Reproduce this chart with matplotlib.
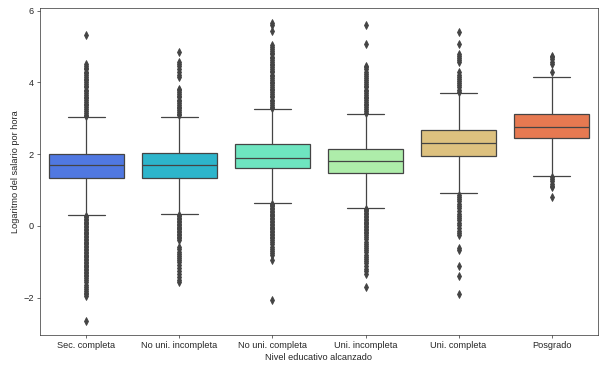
import matplotlib
matplotlib.use("Agg")
import matplotlib.pyplot as plt
import seaborn as sns

sns.set_style("ticks")
plt.rcParams["font.family"] = ["Liberation Sans", "DejaVu Sans"]
plt.rcParams["font.size"] = 11

# categories and box statistics
niveles = ["Sec. completa", "No uni. incompleta", "No uni. completa",
           "Uni. incompleta", "Uni. completa", "Posgrado"]
q1 = [1.34, 1.34, 1.62, 1.48, 1.95, 2.44]
mediana = [1.70, 1.70, 1.90, 1.82, 2.32, 2.76]
q3 = [2.00, 2.04, 2.29, 2.15, 2.68, 3.13]
bigote_inf = [0.31, 0.34, 0.65, 0.51, 0.92, 1.38]
bigote_sup = [3.04, 3.04, 3.25, 3.13, 3.71, 4.16]

# outliers, per category
out_sec = [5.33, 4.50, 4.46, 4.40, 4.36, 4.30, 4.26, 4.20, 4.16, 4.10, 4.06,
           4.00, 3.96, 3.90, 3.86, 3.80, 3.76, 3.70, 3.66, 3.60, 3.56, 3.50,
           3.46, 3.40, 3.36, 3.30, 3.26, 3.20, 3.16, 3.10, 3.06,
           0.28, 0.24, 0.20, 0.16, 0.12, 0.08, 0.04, 0.00, -0.04, -0.08,
           -0.12, -0.16, -0.20, -0.24, -0.28, -0.32, -0.36, -0.40, -0.44,
           -0.48, -0.52, -0.56, -0.60, -0.64, -0.68, -0.72, -0.76, -0.80,
           -0.84, -0.88, -0.92, -0.96, -1.00, -1.04, -1.08, -1.12, -1.16,
           -1.20, -1.24, -1.28, -1.32, -1.36, -1.40, -1.46, -1.52, -1.58,
           -1.64, -1.70, -1.76, -1.82, -1.86, -1.90, -1.95, -2.65]
out_nui = [4.86, 4.58, 4.52, 4.46, 4.38, 4.30, 4.22, 4.14, 3.82, 3.78, 3.72,
           3.68, 3.62, 3.58, 3.52, 3.48, 3.42, 3.38, 3.32, 3.28, 3.22, 3.18,
           3.12, 3.08,
           0.30, 0.26, 0.22, 0.18, 0.14, 0.10, 0.06, 0.02, -0.02, -0.06,
           -0.10, -0.14, -0.18, -0.22, -0.26, -0.30, -0.34, -0.40,
           -0.60, -0.66, -0.72, -0.78, -0.84, -0.90, -0.96, -1.02, -1.10,
           -1.18, -1.26, -1.34, -1.42, -1.50, -1.57]
out_nuc = [5.66, 5.60, 5.42, 5.03, 4.98, 4.92, 4.88, 4.82, 4.78, 4.72, 4.68,
           4.62, 4.58, 4.52, 4.48, 4.42, 4.38, 4.32, 4.28, 4.22, 4.18, 4.12,
           4.08, 4.02, 3.98, 3.92, 3.88, 3.82, 3.78, 3.72, 3.68, 3.62, 3.58,
           3.52, 3.48, 3.42, 3.38, 3.32, 3.28,
           0.62, 0.58, 0.54, 0.50, 0.46, 0.42, 0.38, 0.34, 0.30, 0.26, 0.22,
           0.18, 0.14, 0.10, 0.06, 0.02, -0.02, -0.06, -0.10, -0.14, -0.18,
           -0.22, -0.26, -0.30, -0.34, -0.40, -0.46, -0.52, -0.58, -0.64,
           -0.70, -0.76, -0.82, -0.94, -2.08]
out_uni = [5.61, 5.07, 4.47, 4.42, 4.36, 4.30, 4.24, 4.18, 4.12, 4.06, 4.00,
           3.96, 3.90, 3.86, 3.80, 3.76, 3.70, 3.66, 3.60, 3.56, 3.50, 3.46,
           3.40, 3.36, 3.30, 3.26, 3.20, 3.16,
           0.48, 0.44, 0.40, 0.36, 0.32, 0.28, 0.24, 0.20, 0.16, 0.12, 0.08,
           0.04, 0.00, -0.04, -0.08, -0.12, -0.16, -0.20, -0.26, -0.32,
           -0.38, -0.44, -0.50, -0.56, -0.62, -0.68, -0.74, -0.80, -0.86,
           -0.92, -0.98, -1.04, -1.12, -1.20, -1.27, -1.33, -1.72]
out_unc = [5.40, 5.07, 4.80, 4.74, 4.68, 4.62, 4.56, 4.28, 4.22, 4.16, 4.10,
           4.04, 3.98, 3.92, 3.86, 3.80, 3.74,
           0.86, 0.80, 0.74, 0.68, 0.62, 0.56, 0.50, 0.40, 0.34, 0.28, 0.22,
           0.16, 0.08, 0.02, -0.06, -0.14, -0.20, -0.26, -0.62, -0.68,
           -1.12, -1.41, -1.89]
out_pos = [4.75, 4.70, 4.64, 4.58, 4.52, 4.30, 1.36, 1.30, 1.24, 1.18, 1.12,
           1.08, 0.79]
atipicos = [out_sec, out_nui, out_nuc, out_uni, out_unc, out_pos]

stats = []
for i in range(len(niveles)):
    stats.append({"q1": q1[i], "med": mediana[i], "q3": q3[i],
                  "whislo": bigote_inf[i], "whishi": bigote_sup[i],
                  "fliers": atipicos[i], "label": niveles[i]})

colores = sns.color_palette("rainbow", len(niveles), desat=0.75)
gris = "#444444"

fig = plt.figure(figsize=(10.05, 6.2), dpi=60)
ax = fig.add_axes([0.066, 0.099, 0.926, 0.879])

bp = ax.bxp(stats, positions=range(len(niveles)), widths=0.8,
            patch_artist=True,
            boxprops=dict(edgecolor=gris, linewidth=1.5),
            medianprops=dict(color=gris, linewidth=1.5),
            whiskerprops=dict(color=gris, linewidth=1.5),
            capprops=dict(color=gris, linewidth=1.5),
            flierprops=dict(marker="d", markerfacecolor=gris,
                            markeredgecolor=gris, markersize=6,
                            linestyle="none"))
for caja, c in zip(bp["boxes"], colores):
    caja.set_facecolor(c)

ax.set_xlim(-0.5, len(niveles) - 0.5)
ax.set_ylim(-3.05, 6.07)
ax.set_yticks([-2, 0, 2, 4, 6])
ax.set_xticks(range(len(niveles)))
ax.set_xticklabels(niveles)
ax.set_xlabel("Nivel educativo alcanzado")
ax.set_ylabel("Logaritmo del salario por hora")

fig.savefig("out.png", dpi=60)
